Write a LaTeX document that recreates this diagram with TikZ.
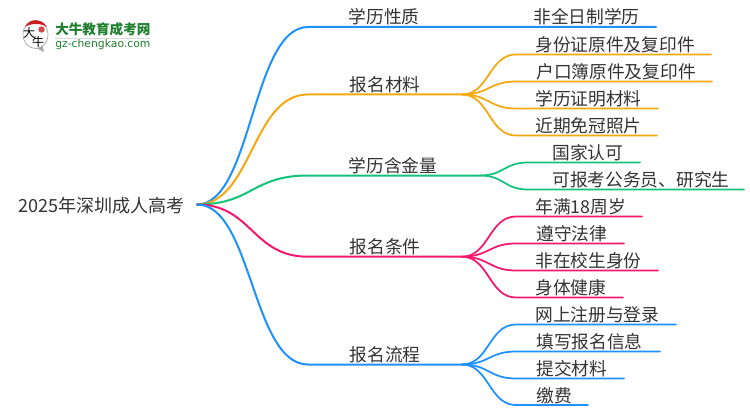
\documentclass[tikz,border=0pt]{standalone}
\usepackage{fontspec}
\setmainfont{Noto Sans CJK SC}
\newfontfamily\latinlogo{DejaVu Sans}
\newcommand{\lab}{\fontsize{13.3pt}{14pt}\selectfont}
\definecolor{cblue}{HTML}{1E90FF}
\definecolor{corange}{HTML}{F5A70F}
\definecolor{cgreen}{HTML}{13C27A}
\definecolor{cpink}{HTML}{F5166E}
\definecolor{ctext}{HTML}{333333}
\definecolor{clogo}{HTML}{1E7F2D}
\definecolor{cred}{HTML}{C8201E}
\tikzset{
 x=0.75pt,y=-0.75pt,
 txt/.style={inner sep=0pt,anchor=base west,text=ctext,font=\lab},
 branch/.style={line width=1.5pt,line cap=round},
 leaf/.style={line width=1.3pt,line cap=round},
 logoglyph/.style={inner sep=0pt,text=black,font=\fontsize{9pt}{9pt}\selectfont},
}
\begin{document}
\begin{tikzpicture}
\useasboundingbox (0,0) rectangle (750,410);
% logo
\fill[gray!70] (32,46) -- (44,52) -- (42,44) -- cycle;
\fill[white,draw=black!35,line width=0.5pt] (35.5,34.5) circle (12.5 and 14);
\fill[cred] (25,27) .. controls (29,18) and (42,18) .. (47,27) .. controls (41,23) and (31,23) .. (25,27) -- cycle;
\fill[cred!80] (41.5,29.5) circle (3.2);
\node[logoglyph] (logoa) at (29,33) {大};
\node[logoglyph] (logob) at (38,41.5) {牛};
\node[inner sep=0pt,anchor=west,text=clogo,font=\fontsize{10.2pt}{11pt}\selectfont\bfseries] (logot) at (55,29) {大牛教育成考网};
\node[inner sep=0pt,anchor=west,text=clogo,font=\latinlogo\fontsize{8.1pt}{9pt}\selectfont] (logou) at (55,45) {gz-chengkao.com};
\coordinate (lg1) at (55,38.5); \coordinate (lg2) at (150,38.5);
\draw[black!15,line width=0.6pt] (lg1) -- (lg2);
% root
\node[txt,font=\fontsize{13.55pt}{14pt}\selectfont] (root) at (18,212) {2025年深圳成人高考};
\coordinate (r) at (197,204.5);
% level 1 ends
\coordinate (a0) at (308,27);   \coordinate (a1) at (656,27);
\coordinate (b0) at (308,94.5); \coordinate (b1) at (462,94.5);
\coordinate (c0) at (308,175.5);\coordinate (c1) at (480,175.5);
\coordinate (d0) at (308,256.7);\coordinate (d1) at (462,256.7);
\coordinate (e0) at (308,364.5);\coordinate (e1) at (462,364.5);
\node[txt] (na) at (348.5,24) {学历性质};
\node[txt] (nb) at (349.5,91.5) {报名材料};
\node[txt] (nc) at (348.5,172.5) {学历含金量};
\node[txt] (nd) at (349.5,253) {报名条件};
\node[txt] (ne) at (349.5,361) {报名流程};
\node[txt] (na1) at (533,24) {非全日制学历};
\foreach \n/\xa/\ya/\t in {
 nb1/535/51.5/身份证原件及复印件, nb2/536/78.5/户口簿原件及复印件, nb3/535/105.5/学历证明材料, nb4/535/132.5/近期免冠照片,
 nc1/552/159.5/国家认可, nc2/552/186.5/可报考公务员、研究生,
 nd1/535/213.5/年满18周岁, nd2/536/240.5/遵守法律, nd3/535/267.5/非在校生身份, nd4/535/294.5/身体健康,
 ne1/535/321.5/网上注册与登录, ne2/536/348.5/填写报名信息, ne3/536/375.5/提交材料, ne4/536/402/缴费}
 {\node[txt] (\n) at (\xa,\ya) {\t};}
% level 1 links
\draw[branch,cblue] (r) .. controls (252,204.5) and (252,27) .. (a0) -- (a1);
\draw[branch,corange] (r) .. controls (252,204.5) and (252,94.5) .. (b0) -- (b1);
\draw[branch,cgreen] (r) .. controls (252,204.5) and (252,175.5) .. (c0) -- (c1);
\draw[branch,cpink] (r) .. controls (252,204.5) and (252,256.7) .. (d0) -- (d1);
\draw[branch,cblue] (r) .. controls (252,204.5) and (252,364.5) .. (e0) -- (e1);
% leaves
\foreach \yy/\xe in {54.5/711,81.5/712,108.5/658,135.5/657}
 \draw[leaf,corange] (b1) .. controls (489,94.5) and (489,\yy) .. (516,\yy) -- (\xe,\yy);
\foreach \yy/\xe in {162.5/640,189.5/744}
 \draw[leaf,cgreen] (c1) .. controls (504,175.5) and (504,\yy) .. (528,\yy) -- (\xe,\yy);
\foreach \yy/\xe in {216.5/642,243.5/624,270.5/658,297.5/623}
 \draw[leaf,cpink] (d1) .. controls (489,256.7) and (489,\yy) .. (516,\yy) -- (\xe,\yy);
\foreach \yy/\xe in {324.5/676,351.5/660,378.5/624,405/588}
 \draw[leaf,cblue] (e1) .. controls (489,364.5) and (489,\yy) .. (516,\yy) -- (\xe,\yy);
\end{tikzpicture}
\end{document}
